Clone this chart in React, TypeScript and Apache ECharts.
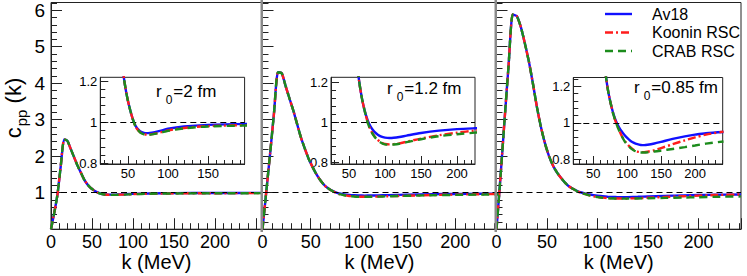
import React, { useEffect, useRef } from 'react';
import * as echarts from 'echarts';

const FONT = "'Liberation Sans', Arial, Helvetica, sans-serif";

const models = ['Av18', 'Koonin RSC', 'CRAB RSC'];
const modelColors = ['#1010ff', '#ff1c1c', '#1c8c1c'];

// panel 1 : r0 = 2 fm
const k1 = [0, 4, 8, 12, 16, 20, 24, 28, 32, 36, 40, 44, 48, 52, 56, 60, 65, 70, 75, 80, 90, 100, 120, 150, 200, 258];
const av18P1 = [0, 0.45, 0.97, 1.75, 2.46, 2.42, 2.2, 1.98, 1.76, 1.57, 1.38, 1.24, 1.14, 1.07, 1.015, 0.978, 0.956, 0.948, 0.947, 0.949, 0.958, 0.968, 0.979, 0.987, 0.992, 0.994];
const kooninP1 = [0, 0.45, 0.97, 1.75, 2.46, 2.42, 2.2, 1.98, 1.76, 1.57, 1.38, 1.24, 1.14, 1.07, 1.015, 0.975, 0.952, 0.942, 0.94, 0.942, 0.95, 0.96, 0.972, 0.981, 0.986, 0.989];
const crabP1 = [0, 0.45, 0.97, 1.75, 2.46, 2.42, 2.2, 1.98, 1.76, 1.57, 1.38, 1.24, 1.14, 1.07, 1.015, 0.975, 0.951, 0.941, 0.939, 0.941, 0.948, 0.958, 0.97, 0.979, 0.984, 0.987];

// panel 2 : r0 = 1.2 fm
const k2 = [0, 4, 8, 12, 16, 20, 24, 28, 32, 36, 40, 44, 48, 52, 56, 60, 64, 68, 72, 76, 80, 85, 90, 95, 100, 106, 112, 120, 130, 150, 175, 200, 225, 245];
const av18P2 = [0, 1.05, 2.1, 3.2, 4.3, 4.27, 3.92, 3.58, 3.25, 2.87, 2.5, 2.2, 1.92, 1.7, 1.5, 1.34, 1.21, 1.12, 1.055, 1.01, 0.978, 0.953, 0.938, 0.928, 0.923, 0.921, 0.922, 0.926, 0.933, 0.946, 0.958, 0.966, 0.97, 0.972];
const kooninP2 = [0, 1.05, 2.1, 3.2, 4.3, 4.27, 3.92, 3.58, 3.25, 2.87, 2.5, 2.2, 1.92, 1.7, 1.5, 1.34, 1.21, 1.12, 1.055, 1.0, 0.962, 0.932, 0.911, 0.898, 0.891, 0.889, 0.89, 0.894, 0.902, 0.918, 0.935, 0.948, 0.958, 0.963];
const crabP2 = [0, 1.05, 2.1, 3.2, 4.3, 4.27, 3.92, 3.58, 3.25, 2.87, 2.5, 2.2, 1.92, 1.7, 1.5, 1.34, 1.21, 1.12, 1.055, 0.998, 0.96, 0.93, 0.909, 0.896, 0.889, 0.887, 0.888, 0.892, 0.9, 0.915, 0.93, 0.94, 0.948, 0.952];

// panel 3 : r0 = 0.85 fm
const k3 = [0, 4, 8, 12, 16, 20, 24, 28, 32, 36, 40, 44, 48, 52, 56, 60, 64, 68, 72, 76, 80, 84, 88, 92, 96, 100, 105, 110, 115, 120, 125, 130, 140, 150, 167, 185, 200, 216, 242];
const av18P3 = [0, 1.45, 3.0, 4.5, 5.88, 5.84, 5.55, 5.1, 4.6, 4.0, 3.35, 2.8, 2.35, 2.0, 1.74, 1.55, 1.4, 1.27, 1.17, 1.1, 1.045, 1.005, 0.975, 0.952, 0.933, 0.917, 0.901, 0.89, 0.883, 0.879, 0.878, 0.88, 0.887, 0.896, 0.912, 0.926, 0.935, 0.943, 0.95];
const kooninP3 = [0, 1.45, 3.0, 4.5, 5.88, 5.84, 5.55, 5.1, 4.6, 4.0, 3.35, 2.8, 2.35, 2.0, 1.74, 1.55, 1.4, 1.27, 1.17, 1.1, 1.04, 0.995, 0.96, 0.928, 0.903, 0.884, 0.865, 0.851, 0.843, 0.84, 0.84, 0.842, 0.85, 0.862, 0.883, 0.904, 0.92, 0.935, 0.952];
const crabP3 = [0, 1.45, 3.0, 4.5, 5.88, 5.84, 5.55, 5.1, 4.6, 4.0, 3.35, 2.8, 2.35, 2.0, 1.74, 1.55, 1.4, 1.27, 1.17, 1.1, 1.04, 0.995, 0.958, 0.926, 0.9, 0.881, 0.862, 0.849, 0.841, 0.838, 0.838, 0.839, 0.843, 0.848, 0.857, 0.867, 0.876, 0.886, 0.898];

const panelK = [k1, k2, k3];
const panelValues = [
  [av18P1, kooninP1, crabP1],
  [av18P2, kooninP2, crabP2],
  [av18P3, kooninP3, crabP3],
];
const panelLabels = ['2 fm', '1.2 fm', '0.85 fm'];

// tick values
const mainXLabels = [0, 50, 100, 150, 200];
const insetMajorX = [50, 100, 150, 200];
const insetMinorX = [20, 30, 40, 60, 70, 80, 90, 110, 120, 130, 140, 160, 170, 180, 190, 210, 220, 230, 240];
const insetMajorY = [0.8, 1, 1.2];
const insetMinorY = [0.84, 0.88, 0.92, 0.96, 1.04, 1.08, 1.12, 1.16, 1.24];

// layout
const mainGrids = [
  { left: 51, width: 211, xMax: 257.3 },
  { left: 262.5, width: 234, xMax: 242.7 },
  { left: 496.5, width: 244.5, xMax: 242.1 },
];
const mainTop = 2.5;
const mainHeight = 226.7;
const mainYMax = 6.21;
const insetGrids = [
  { left: 100.3, top: 77.3, width: 144.3, height: 86.7, xMin: 15.4, xMax: 195.7, yMin: 0.797, yMax: 1.218, titleX: 156, titleY: 81 },
  { left: 331, top: 77.3, width: 144, height: 86.7, xMin: 25, xMax: 225, yMin: 0.79, yMax: 1.227, titleX: 387, titleY: 78 },
  { left: 573.3, top: 77.5, width: 149.4, height: 86.5, xMin: 20.5, xMax: 240.8, yMin: 0.775, yMax: 1.247, titleX: 634, titleY: 77 },
];

const lineTypes: any[] = ['solid', [8, 3, 2, 3], [8, 5]];
const legendY = [14, 32.5, 51];
const AX = '#222';

export default function App() {
  const ref = useRef<HTMLDivElement>(null);
  useEffect(() => {
    if (!ref.current) return;
    const chart = echarts.init(ref.current, undefined, { renderer: 'svg' });

    const grid: any[] = [];
    const xAxis: any[] = [];
    const yAxis: any[] = [];
    const series: any[] = [];

    mainGrids.forEach((g, i) => {
      grid.push({ left: g.left, top: mainTop, width: g.width, height: mainHeight, show: true, borderColor: AX, borderWidth: 1, backgroundColor: 'transparent' });
      xAxis.push({
        type: 'value', gridIndex: i, min: 0, max: g.xMax, interval: 50,
        axisLine: { show: true, onZero: false, lineStyle: { color: AX, width: 1 } },
        axisTick: { show: true, inside: true, length: 11, lineStyle: { color: AX } },
        minorTick: { show: true, splitNumber: 5, length: 6, lineStyle: { color: AX } },
        splitLine: { show: false },
        axisLabel: {
          show: true, margin: 4, fontSize: 18, lineHeight: 18, fontFamily: FONT, color: '#000',
          customValues: mainXLabels,
          formatter: (v: number) => String(v),
        },
      });
      yAxis.push({
        type: 'value', gridIndex: i, min: 0, max: mainYMax, interval: 1,
        axisLine: { show: true, onZero: false, lineStyle: { color: AX, width: 1 } },
        axisTick: { show: true, inside: true, length: 11, lineStyle: { color: AX } },
        minorTick: { show: true, splitNumber: 5, length: 6, lineStyle: { color: AX } },
        splitLine: { show: false },
        axisLabel: {
          show: i === 0, margin: 6, fontSize: 19, fontFamily: FONT, color: '#000',
          formatter: (v: number) => (v === 0 ? '' : String(v)),
        },
      });
    });

    insetGrids.forEach((g) => {
      grid.push({ left: g.left, top: g.top, width: g.width, height: g.height, show: true, borderColor: AX, borderWidth: 1, backgroundColor: 'transparent' });
    });
    insetGrids.forEach((g, i) => {
      xAxis.push({
        type: 'value', gridIndex: 3 + i, min: g.xMin, max: g.xMax, position: 'bottom',
        axisLine: { show: true, onZero: false, lineStyle: { color: AX, width: 1 } },
        axisTick: { show: true, inside: true, length: 8, customValues: insetMajorX, lineStyle: { color: AX } },
        splitLine: { show: false },
        axisLabel: { show: true, margin: 3, fontSize: 13, fontFamily: FONT, color: '#000', customValues: insetMajorX },
      });
      yAxis.push({
        type: 'value', gridIndex: 3 + i, min: g.yMin, max: g.yMax, position: 'left',
        axisLine: { show: true, onZero: false, lineStyle: { color: AX, width: 1 } },
        axisTick: { show: true, inside: true, length: 8, customValues: insetMajorY, lineStyle: { color: AX } },
        splitLine: { show: false },
        axisLabel: {
          show: true, margin: 3, fontSize: 13, fontFamily: FONT, color: '#000', customValues: insetMajorY,
          formatter: (v: number) => (Math.abs(v - 1) < 1e-9 ? '1' : v.toFixed(1)),
        },
      });
    });
    insetGrids.forEach((g, i) => {
      xAxis.push({
        type: 'value', gridIndex: 3 + i, min: g.xMin, max: g.xMax, position: 'bottom', offset: 0,
        axisLine: { show: false },
        axisTick: { show: true, inside: true, length: 4, customValues: insetMinorX, lineStyle: { color: AX } },
        splitLine: { show: false },
        axisLabel: { show: false },
      });
      yAxis.push({
        type: 'value', gridIndex: 3 + i, min: g.yMin, max: g.yMax, position: 'left', offset: 0,
        axisLine: { show: false },
        axisTick: { show: true, inside: true, length: 5, customValues: insetMinorY, lineStyle: { color: AX } },
        splitLine: { show: false },
        axisLabel: { show: false },
      });
    });

    const refLine = {
      silent: true, symbol: 'none', animation: false,
      label: { show: false },
      lineStyle: { color: '#000', type: [6, 4], width: 1.2 },
      data: [{ yAxis: 1 }],
    };

    for (let p = 0; p < 3; p++) {
      const ks = panelK[p];
      for (let m = 0; m < 3; m++) {
        const data = ks.map((k, j) => [k, panelValues[p][m][j]]);
        const base = {
          type: 'line', name: models[m], data, showSymbol: false, symbol: 'none',
          lineStyle: { color: modelColors[m], width: 2.4, type: lineTypes[m] },
          itemStyle: { color: modelColors[m] },
          clip: true, z: 3 + m, silent: true,
        };
        series.push({ ...base, xAxisIndex: p, yAxisIndex: p, smooth: 0.2, markLine: m === 0 ? refLine : undefined });
        series.push({ ...base, xAxisIndex: 3 + p, yAxisIndex: 3 + p, smooth: 0.3, markLine: m === 0 ? refLine : undefined });
      }
    }

    const graphic: any[] = [];
    insetGrids.forEach((g, i) => {
      graphic.push({
        type: 'text', x: g.titleX, y: g.titleY, silent: true,
        style: {
          text: `{a|r}{s|0}{a|=${panelLabels[i]}}`,
          align: 'left', verticalAlign: 'top',
          rich: {
            a: { fontSize: 17, fontFamily: FONT, fill: '#000', lineHeight: 20 },
            s: { fontSize: 12, fontFamily: FONT, fill: '#000', lineHeight: 12, padding: [18, 1, 0, 4] },
          },
        },
      });
    });
    mainGrids.forEach((g) => {
      graphic.push({
        type: 'text', x: g.left + g.width / 2, y: 262, silent: true,
        style: { text: 'k (MeV)', fontSize: 20, lineHeight: 20, fontFamily: FONT, fill: '#000', align: 'center', verticalAlign: 'middle' },
      });
    });
    graphic.push({
      type: 'text', x: 13, y: 108, rotation: Math.PI / 2, silent: true,
      style: {
        text: '{a|c}{s|pp}{a| (k)}', align: 'center', verticalAlign: 'middle',
        rich: {
          a: { fontSize: 22, fontFamily: FONT, fill: '#000', lineHeight: 24 },
          s: { fontSize: 15, fontFamily: FONT, fill: '#000', lineHeight: 15, padding: [16, 0, 0, 1] },
        },
      },
    });
    // legend drawn as graphic samples + texts
    models.forEach((name, m) => {
      graphic.push({
        type: 'line', silent: true, z: 20,
        shape: { x1: 605, y1: legendY[m], x2: 632, y2: legendY[m] },
        style: { stroke: modelColors[m], lineWidth: 2.4, lineDash: m === 0 ? null : lineTypes[m] },
      });
      graphic.push({
        type: 'text', silent: true, z: 20, x: 652, y: legendY[m],
        style: { text: name, fontSize: 16, fontFamily: FONT, fill: '#000', align: 'left', verticalAlign: 'middle' },
      });
    });
    // pad separators
    graphic.push({ type: 'rect', shape: { x: 260.5, y: 0, width: 2.5, height: 232 }, style: { fill: '#8a8a8a' }, silent: true, z: 10 });
    graphic.push({ type: 'rect', shape: { x: 494.5, y: 0, width: 2.5, height: 232 }, style: { fill: '#8a8a8a' }, silent: true, z: 10 });

    chart.setOption({
      animation: false,
      backgroundColor: '#fff',
      grid, xAxis, yAxis, series, graphic,
    });
    return () => chart.dispose();
  }, []);
  return <div ref={ref} style={{ position: 'absolute', left: 0, top: 0, width: 747, height: 276 }} />;
}
